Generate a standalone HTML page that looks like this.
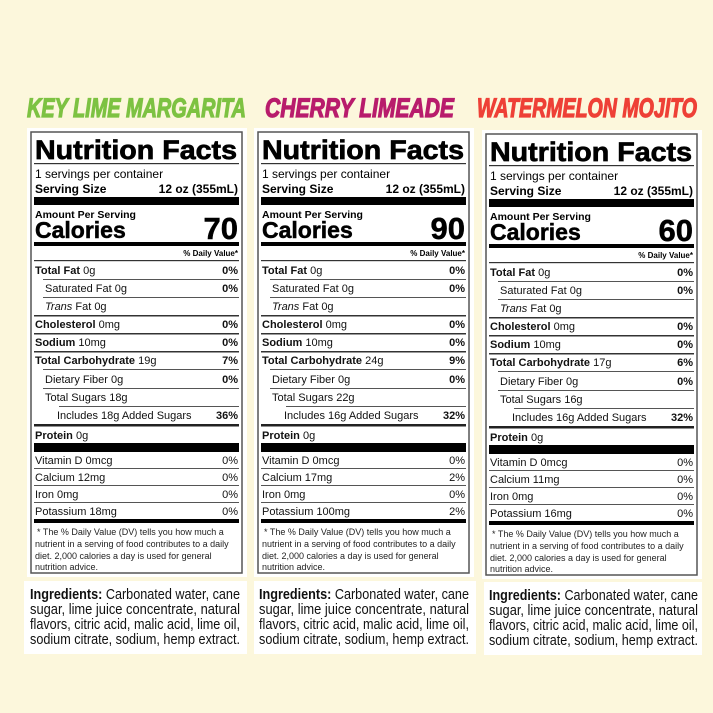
<!DOCTYPE html>
<html><head><meta charset="utf-8"><style>
html,body{margin:0;padding:0;background:#fcf7dc;}
svg{display:block;font-family:"Liberation Sans",Arial,sans-serif;}
.b{font-weight:bold}
.r{text-anchor:end}
.s{font-size:11px;fill:#111}
.f{font-size:9px;fill:#222}
.ing{font-size:14.5px;fill:#111}
.nf{stroke:#000;stroke-width:0.7}
.big{stroke:#000;stroke-width:0.5}
</style></head><body>
<svg width="713" height="713" viewBox="0 0 713 713" xmlns="http://www.w3.org/2000/svg">
<rect width="713" height="713" fill="#fcf7dc"/>
<text x="27" y="117" font-size="27" font-weight="bold" font-style="italic" fill="#7dc242" stroke="#7dc242" stroke-width="1.2" textLength="219" lengthAdjust="spacingAndGlyphs">KEY LIME MARGARITA</text>
<text x="265" y="117" font-size="27" font-weight="bold" font-style="italic" fill="#b81c6c" stroke="#b81c6c" stroke-width="1.2" textLength="189" lengthAdjust="spacingAndGlyphs">CHERRY LIMEADE</text>
<text x="477" y="117" font-size="27" font-weight="bold" font-style="italic" fill="#ee4036" stroke="#ee4036" stroke-width="1.2" textLength="220" lengthAdjust="spacingAndGlyphs">WATERMELON MOJITO</text>

<rect x="24" y="581" width="223" height="73" fill="#fff"/>
<rect x="254" y="581" width="222" height="73" fill="#fff"/>
<rect x="484" y="582" width="218" height="73" fill="#fff"/>
<g class="ing">
<text x="30" y="599" textLength="210" lengthAdjust="spacingAndGlyphs"><tspan class="b">Ingredients:</tspan> Carbonated water, cane</text>
<text x="30" y="614" textLength="210" lengthAdjust="spacingAndGlyphs">sugar, lime juice concentrate, natural</text>
<text x="30" y="629" textLength="210" lengthAdjust="spacingAndGlyphs">flavors, citric acid, malic acid, lime oil,</text>
<text x="30" y="644" textLength="210" lengthAdjust="spacingAndGlyphs">sodium citrate, sodium, hemp extract.</text>
<text x="259" y="599" textLength="210" lengthAdjust="spacingAndGlyphs"><tspan class="b">Ingredients:</tspan> Carbonated water, cane</text>
<text x="259" y="614" textLength="210" lengthAdjust="spacingAndGlyphs">sugar, lime juice concentrate, natural</text>
<text x="259" y="629" textLength="210" lengthAdjust="spacingAndGlyphs">flavors, citric acid, malic acid, lime oil,</text>
<text x="259" y="644" textLength="210" lengthAdjust="spacingAndGlyphs">sodium citrate, sodium, hemp extract.</text>
<text x="489" y="600" textLength="209" lengthAdjust="spacingAndGlyphs"><tspan class="b">Ingredients:</tspan> Carbonated water, cane</text>
<text x="489" y="615" textLength="209" lengthAdjust="spacingAndGlyphs">sugar, lime juice concentrate, natural</text>
<text x="489" y="630" textLength="209" lengthAdjust="spacingAndGlyphs">flavors, citric acid, malic acid, lime oil,</text>
<text x="489" y="645" textLength="209" lengthAdjust="spacingAndGlyphs">sodium citrate, sodium, hemp extract.</text>
</g>

<!-- PANEL 1 -->
<g transform="translate(31,0)">
<rect x="-4" y="128" width="220" height="449" fill="#fff"/>
<rect x="0" y="132" width="211" height="441" fill="#fff" stroke="#555" stroke-width="1.5"/>
<text x="4" y="159" class="b nf" font-size="27" textLength="202" lengthAdjust="spacingAndGlyphs">Nutrition Facts</text>
<rect x="3" y="163" width="205" height="1.2" fill="#333"/>
<text x="4" y="178" font-size="12">1 servings per container</text>
<text x="4" y="193" font-size="12" class="b">Serving Size</text>
<text x="207" y="193" font-size="12" class="b r">12 oz (355mL)</text>
<rect x="3" y="197" width="205" height="8" fill="#000"/>
<text x="4" y="218" font-size="10.5" class="b">Amount Per Serving</text>
<text x="4" y="238" font-size="23" class="b big">Calories</text>
<text x="207" y="239" font-size="31" class="b r big">70</text>
<rect x="3" y="242" width="205" height="4" fill="#000"/>
<text x="207" y="256" font-size="8" class="b r">% Daily Value*</text>
<rect x="3" y="260" width="205" height="1.2" fill="#333"/>
<g class="s">
<text x="4" y="274"><tspan class="b">Total Fat</tspan> 0g</text><text x="207" y="274" class="b r">0%</text>
<rect x="12" y="279" width="196" height="1" fill="#555"/>
<text x="14" y="292">Saturated Fat 0g</text><text x="207" y="292" class="b r">0%</text>
<rect x="12" y="297" width="196" height="1" fill="#555"/>
<text x="14" y="310"><tspan font-style="italic">Trans</tspan> Fat 0g</text>
<rect x="3" y="315" width="205" height="1.5" fill="#333"/>
<text x="4" y="328"><tspan class="b">Cholesterol</tspan> 0mg</text><text x="207" y="328" class="b r">0%</text>
<rect x="3" y="333" width="205" height="1.5" fill="#333"/>
<text x="4" y="346"><tspan class="b">Sodium</tspan> 10mg</text><text x="207" y="346" class="b r">0%</text>
<rect x="3" y="351" width="205" height="1.5" fill="#333"/>
<text x="4" y="364"><tspan class="b">Total Carbohydrate</tspan> 19g</text><text x="207" y="364" class="b r">7%</text>
<rect x="12" y="369" width="196" height="1" fill="#555"/>
<text x="14" y="383">Dietary Fiber 0g</text><text x="207" y="383" class="b r">0%</text>
<rect x="12" y="388" width="196" height="1" fill="#555"/>
<text x="14" y="401">Total Sugars 18g</text>
<rect x="28" y="406" width="180" height="1" fill="#555"/>
<text x="26" y="419">Includes 18g Added Sugars</text><text x="207" y="419" class="b r">36%</text>
<rect x="3" y="424" width="205" height="2.5" fill="#222"/>
<text x="4" y="439"><tspan class="b">Protein</tspan> 0g</text>
<rect x="3" y="443" width="205" height="9" fill="#000"/>
<text x="4" y="464">Vitamin D 0mcg</text><text x="207" y="464" class="r">0%</text>
<rect x="3" y="468" width="205" height="1" fill="#555"/>
<text x="4" y="481">Calcium 12mg</text><text x="207" y="481" class="r">0%</text>
<rect x="3" y="485" width="205" height="1" fill="#555"/>
<text x="4" y="498">Iron 0mg</text><text x="207" y="498" class="r">0%</text>
<rect x="3" y="502" width="205" height="1" fill="#555"/>
<text x="4" y="515">Potassium 18mg</text><text x="207" y="515" class="r">0%</text>
</g>
<rect x="3" y="519" width="205" height="4" fill="#000"/>
<g class="f">
<text x="6" y="535">* The % Daily Value (DV) tells you how much a</text>
<text x="4" y="547">nutrient in a serving of food contributes to a daily</text>
<text x="4" y="559">diet. 2,000 calories a day is used for general</text>
<text x="4" y="570">nutrition advice.</text>
</g>
</g>

<!-- PANEL 2 -->
<g transform="translate(258,0)">
<rect x="-4" y="128" width="220" height="449" fill="#fff"/>
<rect x="0" y="132" width="211" height="441" fill="#fff" stroke="#555" stroke-width="1.5"/>
<text x="4" y="159" class="b nf" font-size="27" textLength="202" lengthAdjust="spacingAndGlyphs">Nutrition Facts</text>
<rect x="3" y="163" width="205" height="1.2" fill="#333"/>
<text x="4" y="178" font-size="12">1 servings per container</text>
<text x="4" y="193" font-size="12" class="b">Serving Size</text>
<text x="207" y="193" font-size="12" class="b r">12 oz (355mL)</text>
<rect x="3" y="197" width="205" height="8" fill="#000"/>
<text x="4" y="218" font-size="10.5" class="b">Amount Per Serving</text>
<text x="4" y="238" font-size="23" class="b big">Calories</text>
<text x="207" y="239" font-size="31" class="b r big">90</text>
<rect x="3" y="242" width="205" height="4" fill="#000"/>
<text x="207" y="256" font-size="8" class="b r">% Daily Value*</text>
<rect x="3" y="260" width="205" height="1.2" fill="#333"/>
<g class="s">
<text x="4" y="274"><tspan class="b">Total Fat</tspan> 0g</text><text x="207" y="274" class="b r">0%</text>
<rect x="12" y="279" width="196" height="1" fill="#555"/>
<text x="14" y="292">Saturated Fat 0g</text><text x="207" y="292" class="b r">0%</text>
<rect x="12" y="297" width="196" height="1" fill="#555"/>
<text x="14" y="310"><tspan font-style="italic">Trans</tspan> Fat 0g</text>
<rect x="3" y="315" width="205" height="1.5" fill="#333"/>
<text x="4" y="328"><tspan class="b">Cholesterol</tspan> 0mg</text><text x="207" y="328" class="b r">0%</text>
<rect x="3" y="333" width="205" height="1.5" fill="#333"/>
<text x="4" y="346"><tspan class="b">Sodium</tspan> 10mg</text><text x="207" y="346" class="b r">0%</text>
<rect x="3" y="351" width="205" height="1.5" fill="#333"/>
<text x="4" y="364"><tspan class="b">Total Carbohydrate</tspan> 24g</text><text x="207" y="364" class="b r">9%</text>
<rect x="12" y="369" width="196" height="1" fill="#555"/>
<text x="14" y="383">Dietary Fiber 0g</text><text x="207" y="383" class="b r">0%</text>
<rect x="12" y="388" width="196" height="1" fill="#555"/>
<text x="14" y="401">Total Sugars 22g</text>
<rect x="28" y="406" width="180" height="1" fill="#555"/>
<text x="26" y="419">Includes 16g Added Sugars</text><text x="207" y="419" class="b r">32%</text>
<rect x="3" y="424" width="205" height="2.5" fill="#222"/>
<text x="4" y="439"><tspan class="b">Protein</tspan> 0g</text>
<rect x="3" y="443" width="205" height="9" fill="#000"/>
<text x="4" y="464">Vitamin D 0mcg</text><text x="207" y="464" class="r">0%</text>
<rect x="3" y="468" width="205" height="1" fill="#555"/>
<text x="4" y="481">Calcium 17mg</text><text x="207" y="481" class="r">2%</text>
<rect x="3" y="485" width="205" height="1" fill="#555"/>
<text x="4" y="498">Iron 0mg</text><text x="207" y="498" class="r">0%</text>
<rect x="3" y="502" width="205" height="1" fill="#555"/>
<text x="4" y="515">Potassium 100mg</text><text x="207" y="515" class="r">2%</text>
</g>
<rect x="3" y="519" width="205" height="4" fill="#000"/>
<g class="f">
<text x="6" y="535">* The % Daily Value (DV) tells you how much a</text>
<text x="4" y="547">nutrient in a serving of food contributes to a daily</text>
<text x="4" y="559">diet. 2,000 calories a day is used for general</text>
<text x="4" y="570">nutrition advice.</text>
</g>
</g>

<!-- PANEL 3 -->
<g transform="translate(486,2)">
<rect x="-4" y="128" width="220" height="449" fill="#fff"/>
<rect x="0" y="132" width="211" height="441" fill="#fff" stroke="#555" stroke-width="1.5"/>
<text x="4" y="159" class="b nf" font-size="27" textLength="202" lengthAdjust="spacingAndGlyphs">Nutrition Facts</text>
<rect x="3" y="163" width="205" height="1.2" fill="#333"/>
<text x="4" y="178" font-size="12">1 servings per container</text>
<text x="4" y="193" font-size="12" class="b">Serving Size</text>
<text x="207" y="193" font-size="12" class="b r">12 oz (355mL)</text>
<rect x="3" y="197" width="205" height="8" fill="#000"/>
<text x="4" y="218" font-size="10.5" class="b">Amount Per Serving</text>
<text x="4" y="238" font-size="23" class="b big">Calories</text>
<text x="207" y="239" font-size="31" class="b r big">60</text>
<rect x="3" y="242" width="205" height="4" fill="#000"/>
<text x="207" y="256" font-size="8" class="b r">% Daily Value*</text>
<rect x="3" y="260" width="205" height="1.2" fill="#333"/>
<g class="s">
<text x="4" y="274"><tspan class="b">Total Fat</tspan> 0g</text><text x="207" y="274" class="b r">0%</text>
<rect x="12" y="279" width="196" height="1" fill="#555"/>
<text x="14" y="292">Saturated Fat 0g</text><text x="207" y="292" class="b r">0%</text>
<rect x="12" y="297" width="196" height="1" fill="#555"/>
<text x="14" y="310"><tspan font-style="italic">Trans</tspan> Fat 0g</text>
<rect x="3" y="315" width="205" height="1.5" fill="#333"/>
<text x="4" y="328"><tspan class="b">Cholesterol</tspan> 0mg</text><text x="207" y="328" class="b r">0%</text>
<rect x="3" y="333" width="205" height="1.5" fill="#333"/>
<text x="4" y="346"><tspan class="b">Sodium</tspan> 10mg</text><text x="207" y="346" class="b r">0%</text>
<rect x="3" y="351" width="205" height="1.5" fill="#333"/>
<text x="4" y="364"><tspan class="b">Total Carbohydrate</tspan> 17g</text><text x="207" y="364" class="b r">6%</text>
<rect x="12" y="369" width="196" height="1" fill="#555"/>
<text x="14" y="383">Dietary Fiber 0g</text><text x="207" y="383" class="b r">0%</text>
<rect x="12" y="388" width="196" height="1" fill="#555"/>
<text x="14" y="401">Total Sugars 16g</text>
<rect x="28" y="406" width="180" height="1" fill="#555"/>
<text x="26" y="419">Includes 16g Added Sugars</text><text x="207" y="419" class="b r">32%</text>
<rect x="3" y="424" width="205" height="2.5" fill="#222"/>
<text x="4" y="439"><tspan class="b">Protein</tspan> 0g</text>
<rect x="3" y="443" width="205" height="9" fill="#000"/>
<text x="4" y="464">Vitamin D 0mcg</text><text x="207" y="464" class="r">0%</text>
<rect x="3" y="468" width="205" height="1" fill="#555"/>
<text x="4" y="481">Calcium 11mg</text><text x="207" y="481" class="r">0%</text>
<rect x="3" y="485" width="205" height="1" fill="#555"/>
<text x="4" y="498">Iron 0mg</text><text x="207" y="498" class="r">0%</text>
<rect x="3" y="502" width="205" height="1" fill="#555"/>
<text x="4" y="515">Potassium 16mg</text><text x="207" y="515" class="r">0%</text>
</g>
<rect x="3" y="519" width="205" height="4" fill="#000"/>
<g class="f">
<text x="6" y="535">* The % Daily Value (DV) tells you how much a</text>
<text x="4" y="547">nutrient in a serving of food contributes to a daily</text>
<text x="4" y="559">diet. 2,000 calories a day is used for general</text>
<text x="4" y="570">nutrition advice.</text>
</g>
</g>
</svg>
</body></html>
